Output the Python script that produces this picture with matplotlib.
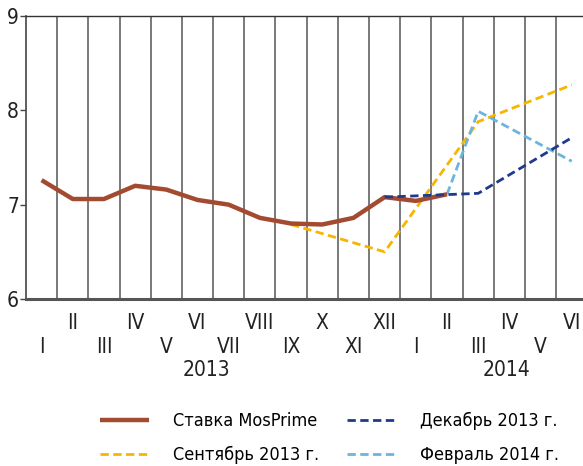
import matplotlib
matplotlib.use('Agg')
import matplotlib.pyplot as plt

plt.rcParams['font.family'] = ['DejaVu Sans']
plt.rcParams['font.stretch'] = 'condensed'

# month index: 0 = Jan 2013 ... 17 = Jun 2014
months = ['I', 'II', 'III', 'IV', 'V', 'VI', 'VII', 'VIII', 'IX', 'X', 'XI', 'XII',
          'I', 'II', 'III', 'IV', 'V', 'VI']
years = ['2013', '2014']

mosprime_x = list(range(14))
mosprime = [7.26, 7.06, 7.06, 7.20, 7.16, 7.05, 7.00, 6.86, 6.80, 6.79, 6.86, 7.08, 7.04, 7.11]

sep13_x = [8, 11, 14, 17]
sep13 = [6.79, 6.50, 7.88, 8.27]

dec13_x = [11, 14, 17]
dec13 = [7.08, 7.12, 7.71]

feb14_x = [13, 14, 17]
feb14 = [7.11, 7.99, 7.46]

brown = '#a34b30'
gold = '#f8b500'
navy = '#1f3a8c'
sky = '#6cb4e0'
dash = (0, (3, 1.6))

fig = plt.figure(figsize=(5.83, 4.66), dpi=100)
ax = fig.add_axes([26 / 583, 1 - 299 / 466, 1 - 26 / 583, (299 - 16) / 466])

ax.set_xlim(0, 17.86)
ax.set_ylim(6, 9)

# month separators
for i in range(1, 18):
    ax.axvline(i, color='#555555', lw=1.1, zorder=1)

ax.plot([x + 0.5 for x in sep13_x], sep13, color=gold, lw=2, ls=dash, zorder=3,
        label='Сентябрь 2013 г.')
ax.plot([x + 0.5 for x in mosprime_x], mosprime, color=brown, lw=3.2, zorder=4,
        solid_capstyle='butt', label='Ставка MosPrime')
ax.plot([x + 0.5 for x in feb14_x], feb14, color=sky, lw=2, ls=dash, zorder=3,
        label='Февраль 2014 г.')
ax.plot([x + 0.5 for x in dec13_x], dec13, color=navy, lw=2, ls=dash, zorder=5,
        label='Декабрь 2013 г.')

ax.spines['right'].set_visible(False)
ax.spines['top'].set_color('#333333')
ax.spines['top'].set_linewidth(1.0)
ax.spines['left'].set_color('#444444')
ax.spines['left'].set_linewidth(1.2)
ax.spines['bottom'].set_color('#555555')
ax.spines['bottom'].set_linewidth(2.2)

ax.set_xticks([])
ax.set_yticks([6, 7, 8, 9])
ax.tick_params(axis='y', length=4, width=1, color='#444444', labelsize=15, pad=1,
               labelcolor='#222222')

trans = ax.get_xaxis_transform()
for i, m in enumerate(months):
    y = -0.085 if i % 2 == 1 else -0.17
    ax.text(i + 0.5, y, m, transform=trans, ha='center', va='center', fontsize=15,
            color='#222222')
ax.text(5.8, -0.25, years[0], transform=trans, ha='center', va='center', fontsize=15,
        color='#222222')
ax.text(15.4, -0.25, years[1], transform=trans, ha='center', va='center', fontsize=15,
        color='#222222')

handles, labels = ax.get_legend_handles_labels()
leg_kw = dict(loc='upper left', frameon=False, fontsize=13, handlelength=2.7,
              handletextpad=1.35, labelspacing=0.88, borderaxespad=0, borderpad=0)
fig.legend([handles[1], handles[0]], [labels[1], labels[0]],
           bbox_to_anchor=(100 / 583, 1 - 412 / 466), **leg_kw)
fig.legend([handles[3], handles[2]], [labels[3], labels[2]],
           bbox_to_anchor=(347 / 583, 1 - 412 / 466), **leg_kw)

fig.savefig('out.png', dpi=100)
